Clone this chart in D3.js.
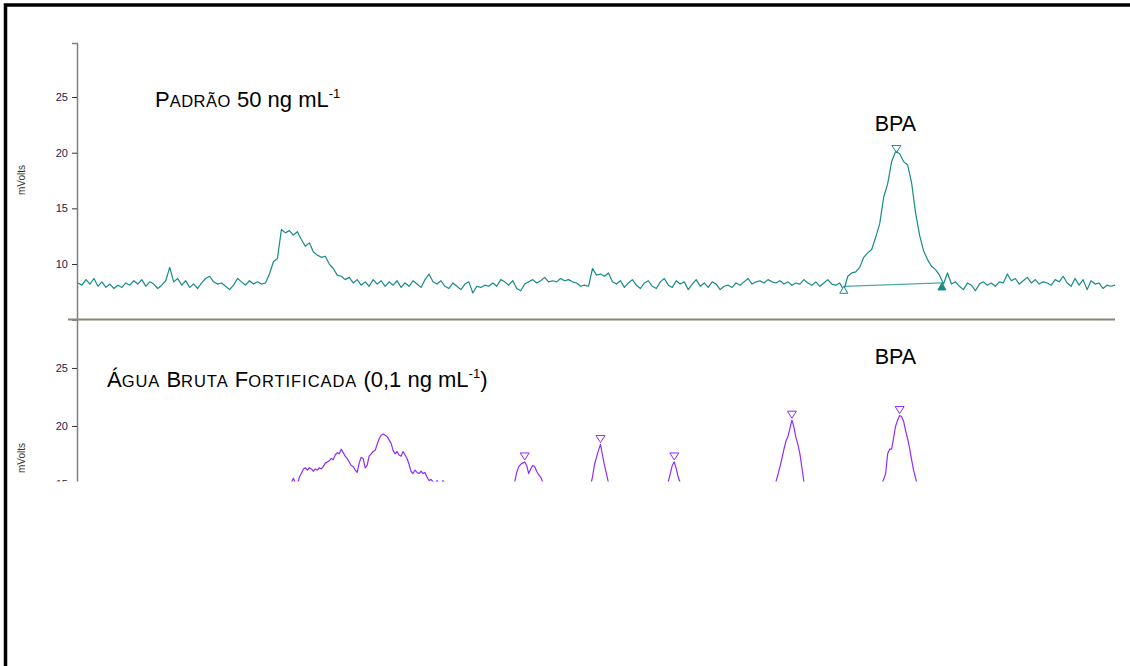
<!DOCTYPE html>
<html>
<head>
<meta charset="utf-8">
<script src="https://cdn.jsdelivr.net/npm/d3@7"></script>
<style>
  body { margin: 0; background: #fff; }
  svg { display: block; font-family: "Liberation Sans", Arial, sans-serif; }
</style>
</head>
<body>
<div id="chart"></div>
<script>
// time step of the sampled detector signal (min)
const dtTop = 0.05;
const dtBottom = 0.025;

// y ticks shared by both panels (mVolts)
const yTicks = [10, 15, 20, 25];

// Padrão 50 ng/mL trace, one value every dtTop starting at t = 0
const padraoTrace = [
  8.3, 8.1, 8.6, 8.2, 8.7, 8.0, 8.4, 7.9, 8.2, 7.8,
  8.1, 7.9, 8.3, 8.1, 8.5, 8.2, 8.6, 8.0, 8.4, 8.2,
  7.8, 8.1, 8.5, 9.7, 8.4, 8.7, 8.1, 8.5, 7.9, 8.2,
  7.8, 8.3, 8.7, 8.9, 8.4, 8.2, 8.3, 8.0, 7.7, 8.1,
  8.7, 8.4, 8.1, 8.5, 8.2, 8.4, 8.2, 8.3, 9.1, 10.2,
  10.5, 13.1, 12.8, 13.0, 12.6, 12.9, 12.2, 11.6, 11.9, 11.1,
  10.8, 10.6, 10.7, 10.0, 9.6, 9.0, 8.9, 8.6, 8.8, 8.3,
  8.6, 8.1, 8.4, 8.0, 8.6, 8.2, 8.5, 8.0, 8.4, 8.1,
  8.5, 7.9, 8.3, 8.0, 8.5, 8.2, 7.9, 8.6, 9.1, 8.4,
  8.2, 8.5, 8.0, 7.8, 8.3, 8.0, 7.7, 8.2, 8.4, 7.4,
  8.0, 7.9, 8.1, 8.0, 8.3, 8.0, 8.6, 8.4, 8.1, 8.5,
  7.8, 7.6, 8.2, 8.4, 8.6, 8.3, 8.5, 8.8, 8.4, 8.5,
  8.4, 8.7, 8.5, 8.6, 8.4, 8.3, 8.0, 8.1, 8.0, 9.6,
  9.0, 9.1, 8.9, 9.2, 8.4, 8.2, 8.5, 7.9, 8.3, 8.6,
  8.1, 7.8, 8.3, 8.5, 8.0, 7.8, 8.4, 8.7, 8.1, 7.9,
  8.5, 8.2, 8.4, 7.7, 8.2, 8.6, 8.0, 8.3, 7.9, 8.4,
  8.2, 7.7, 8.0, 8.1, 7.9, 8.3, 8.1, 8.4, 8.7, 8.2,
  8.4, 8.5, 8.3, 8.6, 8.4, 8.3, 8.5, 8.2, 8.4, 8.1,
  8.3, 8.2, 8.6, 8.3, 8.1, 8.4, 8.0, 8.3, 8.6, 8.2,
  8.1, 8.3, 7.6, 8.9, 9.2, 9.3, 9.7, 10.6, 11.0, 11.3,
  12.4, 13.6, 16.0, 17.2, 19.2, 20.1, 19.9, 19.2, 18.9, 17.3,
  14.6, 12.6, 11.2, 10.4, 9.8, 9.5, 9.0, 8.2, 9.2, 8.2,
  8.4, 8.0, 7.7, 8.3, 8.1, 7.6, 8.2, 8.4, 8.1, 8.3,
  8.0, 8.4, 8.3, 9.1, 8.5, 8.7, 8.2, 8.5, 8.8, 8.3,
  8.6, 8.2, 8.4, 8.3, 8.1, 8.6, 8.4, 8.9, 8.3, 8.0,
  8.7, 8.1, 8.6, 7.7, 8.5, 8.2, 8.3, 7.8, 8.1, 8.0,
  8.1
];

// BPA peak integration in the standard: start, apex, end [t, mV]
const padraoPeakStart = [9.60, 8.0];
const padraoPeakApex = [10.26, 20.1];
const padraoPeakEnd = [10.83, 8.3];

// Água bruta fortificada: only the parts above the visible window
const aguaStarts = [2.65, 5.45, 6.425, 7.375, 8.725, 10.05];
const aguaSegments = [
  [15.0, 15.1, 15.5, 15.1, 14.9, 15.6, 15.9, 16.3, 16.4, 16.2,
   16.4, 16.3, 16.1, 16.3, 16.2, 16.4, 16.3, 16.5, 16.8, 16.9,
   17.0, 17.2, 17.1, 17.5, 17.7, 17.6, 18.0, 17.7, 17.4, 17.2,
   16.9, 16.6, 16.5, 16.2, 16.0, 16.8, 17.3, 17.2, 16.4, 16.6,
   17.4, 17.6, 17.8, 17.9, 18.4, 18.9, 19.2, 19.3, 19.2, 19.1,
   18.8, 18.5, 17.9, 17.6, 17.8, 17.5, 17.4, 17.8, 17.5, 17.2,
   16.7, 16.1, 15.9, 16.2, 16.0, 15.9, 16.1, 15.9, 16.0, 15.6,
   15.3, 15.4, 15.2, 15.0, 15.3, 15.1, 15.0, 15.3, 15.1],
  [14.9, 15.2, 16.0, 16.5, 16.7, 16.8, 16.9, 16.6, 15.9, 16.3,
   16.6, 16.5, 16.1, 15.8, 15.6, 15.2, 14.9],
  [14.9, 15.6, 16.7, 17.3, 17.9, 18.4, 17.5, 16.6, 15.9, 15.1],
  [14.8, 15.2, 15.9, 16.6, 16.9, 16.3, 15.6, 15.1, 14.8],
  [14.9, 15.2, 15.8, 16.5, 17.2, 18.0, 18.7, 19.1, 19.8, 20.5,
   19.9, 19.0, 18.4, 17.6, 16.4, 15.2, 14.8],
  [14.8, 15.0, 15.4, 15.9, 17.6, 18.0, 18.0, 19.0, 20.0, 20.5,
   20.9, 20.8, 20.4, 19.6, 18.9, 18.1, 17.1, 16.2, 15.5, 14.9]
];
// detected peak apexes in the sample [t, mV]
const aguaApexTimes = [5.60, 6.55, 7.475, 8.95, 10.30];
const aguaApexValues = [16.9, 18.4, 16.9, 20.5, 20.9];

const width = 1130, height = 666;
const tealColor = '#178a8a';
const purpleColor = '#8f2cff';

const svg = d3.select('#chart').append('svg')
  .attr('width', width)
  .attr('height', height);

// x is retention time, no axis is shown
const x = d3.scaleLinear().domain([0, 13]).range([78, 1115]);
const yTop = d3.scaleLinear().domain([5, 29.85]).range([319.7, 43]);
const yBot = d3.scaleLinear().domain([15, 29.22]).range([484, 319]);

// frame of the scanned figure (right/bottom edges fall outside)
svg.append('rect')
  .attr('x', 5.5).attr('y', 5)
  .attr('width', 1300).attr('height', 1000)
  .attr('fill', 'none')
  .attr('stroke', '#000')
  .attr('stroke-width', 3.5);

function styleAxis(g) {
  g.select('.domain').attr('stroke', '#808080').attr('stroke-width', 1.5);
  g.selectAll('.tick line').attr('stroke', '#333').attr('stroke-width', 1);
  g.selectAll('.tick text')
    .attr('fill', '#22224a')
    .attr('font-size', 11)
    .attr('font-family', '"Liberation Sans", Arial, sans-serif');
}

// ---------- top panel ----------
svg.append('g')
  .attr('transform', 'translate(77,0)')
  .call(d3.axisLeft(yTop).tickValues(yTicks).tickSize(5).tickSizeOuter(5).tickPadding(4))
  .call(styleAxis);

svg.append('text')
  .attr('transform', 'translate(25,180) rotate(-90)')
  .attr('text-anchor', 'middle')
  .attr('font-size', 10)
  .attr('fill', '#3d3520')
  .text('mVolts');

const lineTop = d3.line()
  .x((d, i) => x(i * dtTop))
  .y(d => yTop(d));

// integration baseline
svg.append('line')
  .attr('x1', x(padraoPeakStart[0])).attr('y1', yTop(padraoPeakStart[1]))
  .attr('x2', x(padraoPeakEnd[0])).attr('y2', yTop(padraoPeakEnd[1]))
  .attr('stroke', '#4fa9a9')
  .attr('stroke-width', 1.3);

svg.append('path')
  .datum(padraoTrace)
  .attr('d', lineTop)
  .attr('fill', 'none')
  .attr('stroke', tealColor)
  .attr('stroke-width', 1.2)
  .attr('stroke-linejoin', 'round');

// peak markers
function triUp(cx, cy) {
  return `M${cx},${cy} L${cx - 4},${cy + 7} L${cx + 4},${cy + 7} Z`;
}
function triDown(cx, cy) {
  return `M${cx},${cy} L${cx - 4.5},${cy - 7} L${cx + 4.5},${cy - 7} Z`;
}
svg.append('path')
  .attr('d', triUp(x(padraoPeakStart[0]), yTop(padraoPeakStart[1])))
  .attr('fill', '#fff').attr('stroke', tealColor).attr('stroke-width', 1);
svg.append('path')
  .attr('d', triUp(x(padraoPeakEnd[0]), yTop(padraoPeakEnd[1])))
  .attr('fill', tealColor).attr('stroke', tealColor).attr('stroke-width', 1);
svg.append('path')
  .attr('d', triDown(x(padraoPeakApex[0]), yTop(padraoPeakApex[1]) + 1))
  .attr('fill', 'none').attr('stroke', tealColor).attr('stroke-width', 1);

// titles: big initials, smaller caps with a little tracking
function addTitle(xPos, yPos, parts, tracking) {
  const t = svg.append('text')
    .attr('x', xPos).attr('y', yPos)
    .attr('fill', '#000');
  parts.forEach(p => {
    const small = p[1] === 16.5;
    t.append('tspan')
      .attr('font-size', p[1])
      .attr('letter-spacing', small ? tracking : 0)
      .attr('dy', p[2] || 0)
      .text(p[0]);
  });
}
addTitle(155, 107, [['P', 22], ['ADRÃO', 16.5], [' 50 ng mL', 22], ['-1', 13, -9]], 0.5);

svg.append('text')
  .attr('x', 895.5).attr('y', 131)
  .attr('text-anchor', 'middle')
  .attr('font-size', 21.5)
  .text('BPA');

// ---------- bottom panel ----------
svg.append('clipPath').attr('id', 'clipBot')
  .append('rect')
  .attr('x', 0).attr('y', 318).attr('width', width).attr('height', 163.5);

const bot = svg.append('g').attr('clip-path', 'url(#clipBot)');

bot.append('g')
  .attr('transform', 'translate(77,0)')
  .call(d3.axisLeft(yBot).tickValues([15, 20, 25]).tickSize(5).tickSizeOuter(0).tickPadding(4))
  .call(styleAxis);

bot.append('text')
  .attr('transform', 'translate(25,458) rotate(-90)')
  .attr('text-anchor', 'middle')
  .attr('font-size', 10)
  .attr('fill', '#3d3520')
  .text('mVolts');

aguaSegments.forEach((seg, s) => {
  const line = d3.line()
    .x((d, i) => x(aguaStarts[s] + i * dtBottom))
    .y(d => yBot(d));
  bot.append('path')
    .datum(seg)
    .attr('d', line)
    .attr('fill', 'none')
    .attr('stroke', purpleColor)
    .attr('stroke-width', 1.2)
    .attr('stroke-linejoin', 'round');
});

aguaApexTimes.forEach((t, i) => {
  bot.append('path')
    .attr('d', triDown(x(t), yBot(aguaApexValues[i]) - 2))
    .attr('fill', 'none')
    .attr('stroke', purpleColor)
    .attr('stroke-width', 1);
});

addTitle(107, 387, [['Á', 22], ['GUA', 16.5], [' B', 22], ['RUTA', 16.5], [' F', 22],
  ['ORTIFICADA', 16.5], [' (0,1 ng mL', 22], ['-1', 13, -9], [')', 22, 9]], 0.95);

svg.append('text')
  .attr('x', 895.5).attr('y', 364)
  .attr('text-anchor', 'middle')
  .attr('font-size', 21.5)
  .text('BPA');

// separator between the two chromatograms
svg.append('line')
  .attr('x1', 68).attr('x2', 1115)
  .attr('y1', 319.5).attr('y2', 319.5)
  .attr('stroke', '#8b8775')
  .attr('stroke-width', 2);
</script>
</body>
</html>
